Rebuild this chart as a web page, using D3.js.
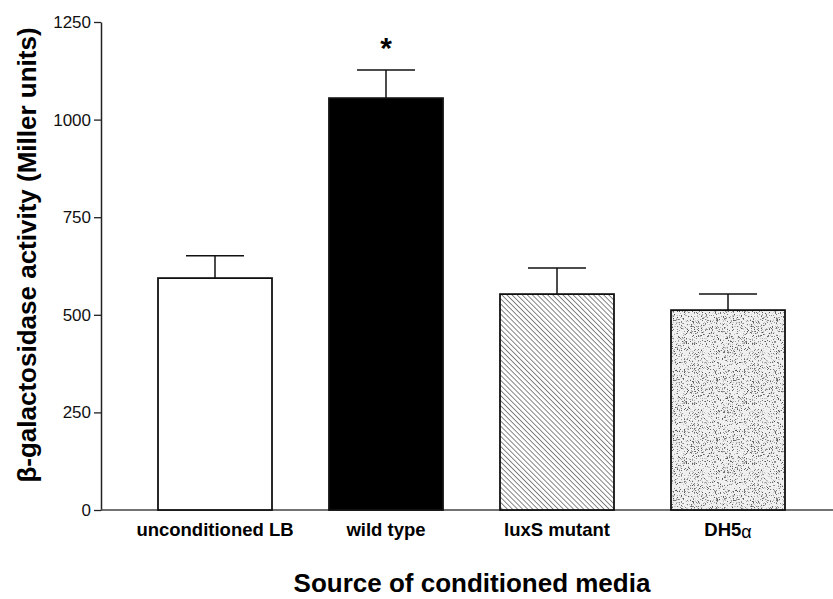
<!DOCTYPE html>
<html>
<head>
<meta charset="utf-8">
<script src="https://cdn.jsdelivr.net/npm/d3@7"></script>
<style>
  body { margin: 0; background: #fff; }
  text { font-family: Arial, "Liberation Sans", sans-serif; }
</style>
</head>
<body>
<div id="chart"></div>
<script>
// data
const categories = ["unconditioned LB", "wild type", "luxS mutant", "DH5\u03b1"];
const means = [594, 1055, 553, 512];
const errors = [57, 72, 67, 41];
const fills = ["white", "black", "url(#hatch)", "url(#stipple)"];
const yTicks = [0, 250, 500, 750, 1000, 1250];

const W = 833, H = 599;
const margin = { top: 22, right: 0, bottom: 89, left: 101 };
const plotH = H - margin.top - margin.bottom;

const svg = d3.select("#chart").append("svg")
    .attr("width", W).attr("height", H);

// patterns
const defs = svg.append("defs");
const hatch = defs.append("pattern")
    .attr("id", "hatch")
    .attr("patternUnits", "userSpaceOnUse")
    .attr("width", 3.6).attr("height", 3.6)
    .attr("patternTransform", "rotate(-45)");
hatch.append("rect").attr("width", 3.6).attr("height", 3.6).attr("fill", "white");
hatch.append("line")
    .attr("x1", 0).attr("y1", 0).attr("x2", 0).attr("y2", 3.6)
    .attr("stroke", "#222").attr("stroke-width", 1.1);

// stipple texture (deterministic dots)
const tile = 60;
const stip = defs.append("pattern")
    .attr("id", "stipple")
    .attr("patternUnits", "userSpaceOnUse")
    .attr("width", tile).attr("height", tile);
stip.append("rect").attr("width", tile).attr("height", tile).attr("fill", "#f0f0f0");
let seed = 12345;
const lcg = () => (seed = (seed * 1103515245 + 12345) % 2147483648) / 2147483648;
for (let i = 0; i < 1000; i++) {
    const g = Math.floor(lcg() * 150) + 80;
    stip.append("rect")
        .attr("x", Math.floor(lcg() * tile))
        .attr("y", Math.floor(lcg() * tile))
        .attr("width", 1).attr("height", 1)
        .attr("fill", `rgb(${g},${g},${g})`);
}

const g = svg.append("g").attr("transform", `translate(${margin.left},${margin.top})`);

const x = d3.scaleBand()
    .domain(categories)
    .range([0, 741])
    .paddingInner(1 / 3)
    .paddingOuter(1 / 3);

const y = d3.scaleLinear().domain([0, 1250]).range([plotH, 0]);

// y axis
const yAxis = g.append("g")
    .call(d3.axisLeft(y).tickValues(yTicks).tickFormat(d3.format("d"))
        .tickSize(7).tickSizeOuter(0).tickPadding(3));
yAxis.select(".domain").attr("stroke", "#222").attr("stroke-width", 1.5);
yAxis.selectAll(".tick line").attr("stroke", "#222").attr("stroke-width", 1.3);
yAxis.selectAll(".tick text")
    .attr("font-size", 17).attr("fill", "#111");

// x axis line
g.append("line")
    .attr("x1", 0).attr("x2", W - margin.left)
    .attr("y1", plotH).attr("y2", plotH)
    .attr("stroke", "#444").attr("stroke-width", 1.6);

// error bars
const eb = g.selectAll(".err").data(categories).enter().append("g").attr("class", "err");
eb.append("line")
    .attr("x1", d => x(d) + x.bandwidth() / 2)
    .attr("x2", d => x(d) + x.bandwidth() / 2)
    .attr("y1", (d, i) => y(means[i]))
    .attr("y2", (d, i) => y(means[i] + errors[i]))
    .attr("stroke", "#111").attr("stroke-width", 1.5);
eb.append("line")
    .attr("x1", d => x(d) + x.bandwidth() / 2 - 29)
    .attr("x2", d => x(d) + x.bandwidth() / 2 + 29)
    .attr("y1", (d, i) => y(means[i] + errors[i]))
    .attr("y2", (d, i) => y(means[i] + errors[i]))
    .attr("stroke", "#111").attr("stroke-width", 1.5);

// bars
g.selectAll(".bar").data(categories).enter().append("rect")
    .attr("class", "bar")
    .attr("x", d => x(d))
    .attr("y", (d, i) => y(means[i]))
    .attr("width", x.bandwidth())
    .attr("height", (d, i) => plotH - y(means[i]))
    .attr("fill", (d, i) => fills[i])
    .attr("stroke", "#111").attr("stroke-width", 1.8);

// significance star
g.append("text")
    .attr("x", x("wild type") + x.bandwidth() / 2)
    .attr("y", y(means[1] + errors[1]) - 12)
    .attr("text-anchor", "middle")
    .attr("font-size", 30).attr("font-weight", "bold")
    .text("*");

// category labels
const cat = g.selectAll(".cat").data(categories).enter().append("text")
    .attr("class", "cat")
    .attr("x", d => x(d) + x.bandwidth() / 2)
    .attr("y", plotH + 26)
    .attr("text-anchor", "middle")
    .attr("font-size", 18.5).attr("font-weight", "bold");
cat.each(function (d) {
    const t = d3.select(this);
    if (d.endsWith("\u03b1")) {
        t.append("tspan").text(d.slice(0, -1));
        t.append("tspan").attr("font-weight", "normal").attr("font-size", 18)
            .attr("dy", 2).text("\u03b1");
    } else {
        t.text(d);
    }
});

// axis titles
svg.append("text")
    .attr("x", 472).attr("y", 592)
    .attr("text-anchor", "middle")
    .attr("font-size", 26).attr("font-weight", "bold")
    .text("Source of conditioned media");

svg.append("text")
    .attr("transform", "translate(36,255) rotate(-90)")
    .attr("text-anchor", "middle")
    .attr("font-size", 26).attr("font-weight", "bold")
    .text("\u03b2-galactosidase activity (Miller units)");
</script>
</body>
</html>
